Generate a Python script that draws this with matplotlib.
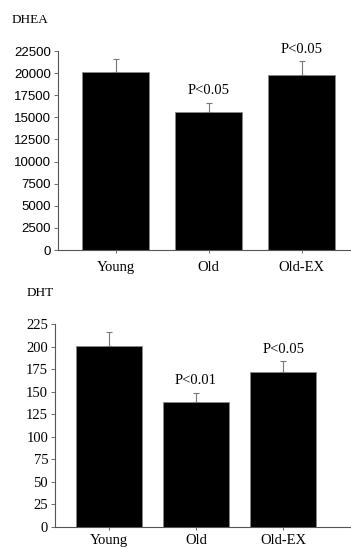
import numpy as np
import matplotlib.pyplot as plt

groups = ["Young", "Old", "Old-EX"]

dhea_mean = [20100, 15600, 19800]
dhea_err = [1500, 1050, 1550]
dhea_p = ["", "P<0.05", "P<0.05"]
dhea_ticks = [0, 2500, 5000, 7500, 10000, 12500, 15000, 17500, 20000, 22500]

dht_mean = [201, 138, 172]
dht_err = [15, 11, 12]
dht_p = ["", "P<0.01", "P<0.05"]
dht_ticks = [0, 25, 50, 75, 100, 125, 150, 175, 200, 225]

serif = "Liberation Serif"
sans = "Liberation Sans"


def draw_panel(ax, means, errs, pvals, ticks, width, xmax, tick_font, tick_size, p_offset, xpad):
    x = np.arange(len(groups))
    ax.bar(x, means, width=width, color="black", edgecolor="#888888", linewidth=0.6)
    ax.errorbar(x, means, yerr=[np.zeros(len(errs)), errs], fmt="none",
                ecolor="#777777", elinewidth=0.8, capsize=2, capthick=0.8)
    for xi, m, e, p in zip(x, means, errs, pvals):
        if p:
            ax.text(xi, m + e + p_offset, p, ha="center", va="bottom",
                    fontfamily=serif, fontsize=10.5)
    ax.set_xlim(-0.62, xmax)
    ax.set_ylim(0, ticks[-1])
    ax.set_yticks(ticks)
    ax.set_yticklabels([str(t) for t in ticks], fontfamily=tick_font, fontsize=tick_size)
    ax.set_xticks(x)
    ax.set_xticklabels(groups, fontfamily=serif, fontsize=10.5)
    ax.spines["top"].set_visible(False)
    ax.spines["right"].set_visible(False)
    ax.spines["left"].set_color("#555555")
    ax.spines["bottom"].set_color("#555555")
    ax.tick_params(axis="y", length=3, width=0.6, color="#555555", pad=2)
    ax.tick_params(axis="x", length=2, width=0.6, color="#555555", pad=xpad)


fig = plt.figure(figsize=(3.51, 5.49), dpi=100)

ax1 = fig.add_axes([0.165, 0.5446, 0.835, 0.3625])
draw_panel(ax1, dhea_mean, dhea_err, dhea_p, dhea_ticks, 0.72, 2.53, sans, 9.5, 600, 6)
fig.text(12 / 351, 1 - 20 / 549, "DHEA", fontfamily=serif, fontsize=9.5, va="center")

ax2 = fig.add_axes([0.157, 0.0406, 0.843, 0.369])
draw_panel(ax2, dht_mean, dht_err, dht_p, dht_ticks, 0.76, 2.78, serif, 10.5, 6, 3)
fig.text(27 / 351, 1 - 293 / 549, "DHT", fontfamily=serif, fontsize=9.5, va="center")

fig.savefig("out.png", dpi=100)
